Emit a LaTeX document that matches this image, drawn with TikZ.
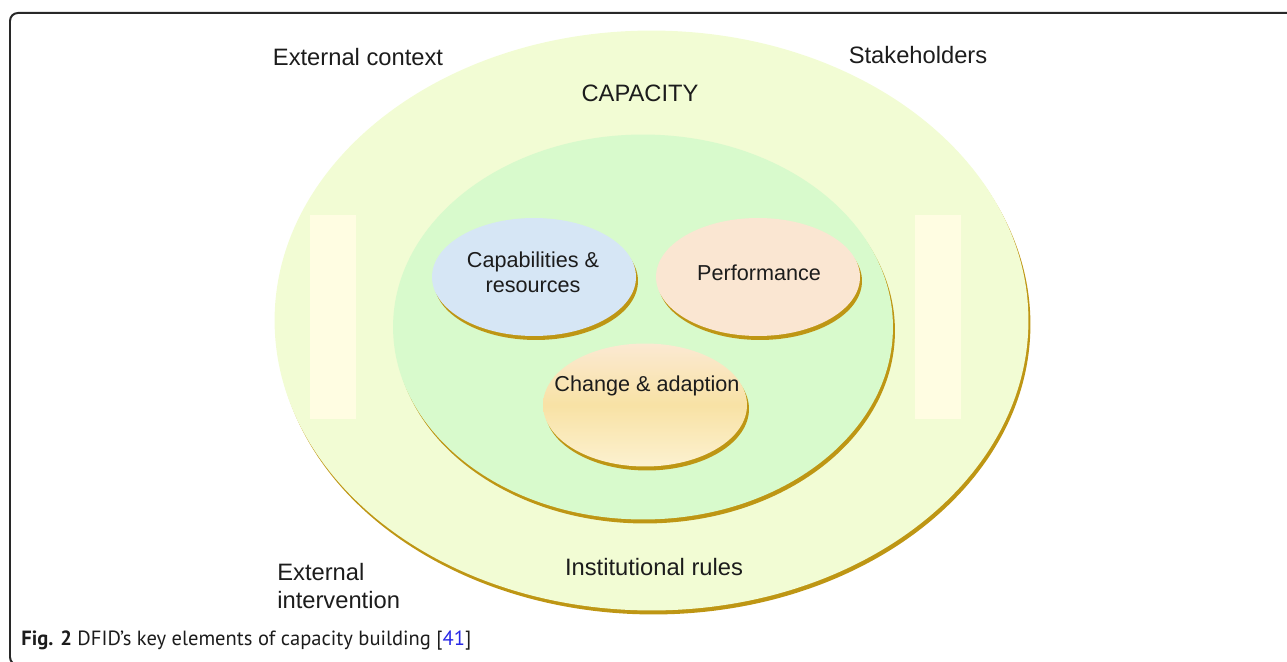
\documentclass[tikz,border=0pt]{standalone}
\usepackage{fontspec}
\setmainfont{Liberation Sans}
\newfontfamily\captionfont{PT Sans}
\usetikzlibrary{shapes.geometric,shadows}

\definecolor{outerfill}{RGB}{242,252,212}
\definecolor{innerfill}{RGB}{216,250,204}
\definecolor{gold}{RGB}{190,150,20}
\definecolor{capblue}{RGB}{214,230,245}
\definecolor{perfpeach}{RGB}{250,230,210}
\definecolor{chgtop}{RGB}{251,233,210}
\definecolor{chgmid}{RGB}{248,226,165}
\definecolor{chgbot}{RGB}{252,241,208}
\definecolor{paleyellow}{RGB}{255,253,226}
\definecolor{refblue}{RGB}{40,40,230}
\definecolor{txt}{RGB}{28,28,28}
\definecolor{framec}{RGB}{40,40,40}

\begin{document}
\begin{tikzpicture}[x=0.02cm,y=-0.02cm,
  blob/.style={ellipse, inner sep=0pt, draw=none,
    general shadow={fill=gold, shadow xshift=0.04cm, shadow yshift=-0.08cm}},
  smallblob/.style={blob, minimum width=4.08cm, minimum height=2.36cm},
  band/.style={fill=paleyellow, draw=none, inner sep=0pt,
    minimum width=0.92cm, minimum height=4.08cm},
  lbl/.style={font=\fontsize{13.5}{16}\selectfont, text=txt, inner sep=0pt},
  inlbl/.style={font=\fontsize{12.3}{14}\selectfont, text=txt, align=center, inner sep=0pt}]
\useasboundingbox (0,0) rectangle (1287,662);

% frame around the figure
\coordinate (frameTR) at (1287,13);
\coordinate (frameBL) at (40,665);
\draw[framec, line width=0.04cm, rounded corners=4.5pt] (frameTR) -- (10,13) -- (10,665) -- (frameBL);

% outer capacity ellipse and the two side bands
\node[blob, fill=outerfill, minimum width=15.08cm, minimum height=11.6cm] (outer) at (651.5,320.5) {};
\node[band] (leftband) at (333,317) {};
\node[band] (rightband) at (937.5,317) {};

% inner ellipse
\node[blob, fill=innerfill, minimum width=10cm, minimum height=7.7cm] (inner) at (643,327) {};

% the three elements
\node[smallblob, fill=capblue] (capab) at (534,277) {};
\node[smallblob, fill=perfpeach] (perf) at (758,277) {};
\node[smallblob, minimum height=2.46cm, top color=chgtop, bottom color=chgbot, middle color=chgmid] (change) at (645,405) {};

% texts
\node[inlbl] (capabtxt) at (533,272) {Capabilities \&\\resources};
\node[inlbl] (perftxt) at (759,273) {Performance};
\node[inlbl] (changetxt) at (647,386) {Change \& adaption};

\node[lbl] (extctx) at (358,57) {External context};
\node[lbl] (stake) at (918,55) {Stakeholders};
\node[lbl] (captxt) at (640,93) {CAPACITY};
\node[lbl] (rules) at (654,567) {Institutional rules};
\node[lbl, anchor=west, align=left] (extint) at (277,586) {External\\intervention};

% caption
\node[anchor=west, inner sep=0pt, text=txt] (caption) at (21,641)
  {\captionfont\fontsize{11.7}{14}\selectfont\textbf{Fig. 2} DFID’s key elements of capacity building [\textcolor{refblue}{41}]};
\end{tikzpicture}
\end{document}
